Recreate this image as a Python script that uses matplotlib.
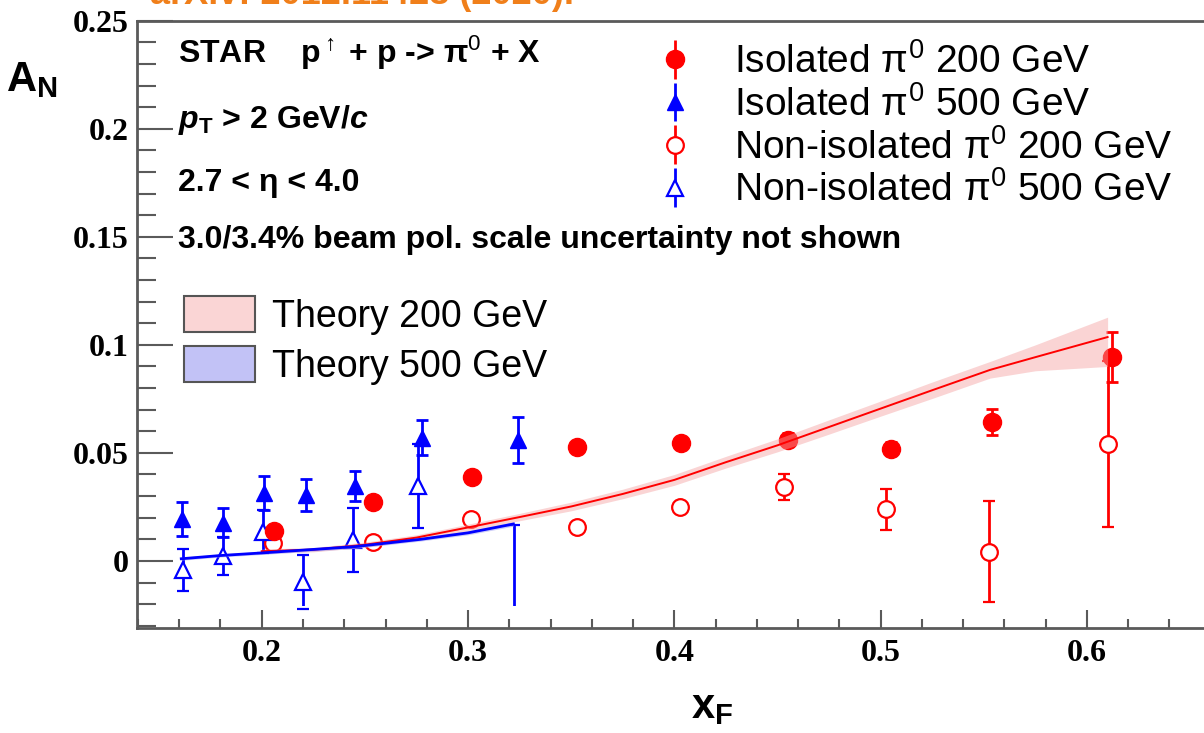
import matplotlib.pyplot as plt
from matplotlib.patches import Rectangle, Patch

plt.rcParams['mathtext.fontset'] = 'custom'
plt.rcParams['mathtext.rm'] = 'Liberation Sans'
plt.rcParams['mathtext.it'] = 'Liberation Sans:italic'
plt.rcParams['mathtext.bf'] = 'Liberation Sans:bold'
plt.rcParams['mathtext.bfit'] = 'Liberation Sans:italic:bold'
plt.rcParams['font.family'] = ['Liberation Sans', 'DejaVu Sans']

# isolated pi0, 200 GeV
xf_iso200 = [0.206, 0.254, 0.302, 0.353, 0.403, 0.455, 0.505, 0.554, 0.612]
an_iso200 = [0.0139, 0.0275, 0.039, 0.0525, 0.0545, 0.056, 0.0519, 0.0644, 0.0943]
err_iso200 = [0.002, 0.002, 0.002, 0.002, 0.002, 0.003, 0.003, 0.006, 0.0117]

# non-isolated pi0, 200 GeV
xf_non200 = [0.2056, 0.2538, 0.3013, 0.3527, 0.4028, 0.4532, 0.5028, 0.5527, 0.610]
an_non200 = [0.0082, 0.0087, 0.0193, 0.0159, 0.0249, 0.0344, 0.0239, 0.0043, 0.0542]
err_non200 = [0.002, 0.002, 0.002, 0.002, 0.002, 0.006, 0.0095, 0.0235, 0.0383]

# isolated pi0, 500 GeV
xf_iso500 = [0.1612, 0.1814, 0.2013, 0.2215, 0.245, 0.2778, 0.3244]
an_iso500 = [0.0193, 0.0177, 0.0313, 0.0306, 0.0347, 0.057, 0.0561]
err_iso500 = [0.0078, 0.0067, 0.0078, 0.0073, 0.0068, 0.008, 0.0107]

# non-isolated pi0, 500 GeV (last point is below the frame)
xf_non500 = [0.1616, 0.1814, 0.2008, 0.2202, 0.244, 0.2759, 0.3223]
an_non500 = [-0.0042, 0.0023, 0.0136, -0.0096, 0.0097, 0.0347, -0.05]
err_non500 = [0.0095, 0.0088, 0.010, 0.0125, 0.0150, 0.0196, 0.0667]

# theory curves
xf_th200 = [0.20, 0.225, 0.25, 0.275, 0.30, 0.325, 0.35, 0.375, 0.40, 0.425,
            0.45, 0.475, 0.50, 0.525, 0.553, 0.575, 0.61]
an_th200 = [0.0045, 0.0052, 0.0075, 0.0108, 0.0155, 0.0203, 0.0252, 0.031, 0.0375,
            0.0457, 0.0535, 0.062, 0.0705, 0.079, 0.0884, 0.0943, 0.1036]
lo_th200 = [0.0035, 0.0042, 0.0063, 0.0095, 0.014, 0.0186, 0.0232, 0.0288, 0.035,
            0.043, 0.0505, 0.0587, 0.067, 0.0752, 0.0846, 0.0880, 0.090]
hi_th200 = [0.0055, 0.0062, 0.0087, 0.0121, 0.017, 0.022, 0.0272, 0.0332, 0.040,
            0.0484, 0.0565, 0.0653, 0.074, 0.0828, 0.0923, 0.100, 0.1128]

xf_th500 = [0.161, 0.18, 0.20, 0.22, 0.245, 0.277, 0.30, 0.322]
an_th500 = [0.001, 0.0025, 0.0037, 0.005, 0.0066, 0.010, 0.013, 0.0171]
lo_th500 = [0.0003, 0.0018, 0.003, 0.0042, 0.0058, 0.0092, 0.0121, 0.0161]
hi_th500 = [0.0017, 0.0032, 0.0044, 0.0058, 0.0074, 0.0108, 0.0139, 0.0181]

W, H = 1204, 733
fig = plt.figure(figsize=(W / 100, H / 100), dpi=100)
ax = fig.add_axes([136.7 / W, 105.3 / H, (1212 - 136.7) / W, (712.3 - 105.3) / H])
ax.set_xlim(0.1394, 0.6606)
ax.set_ylim(-0.0309, 0.25)

red = '#ff0000'
blue = '#0000ff'
ebkw = dict(linestyle='none', elinewidth=2, capsize=4, capthick=2)
styles = [
    dict(fmt='o', color=red, ms=13),
    dict(fmt='^', color=blue, ms=12),
    dict(fmt='o', color=red, mfc='white', mew=1.6, ms=12),
    dict(fmt='^', color=blue, mfc='white', mew=1.6, ms=12),
]
labels = ['Isolated π$^0$ 200 GeV', 'Isolated π$^0$ 500 GeV',
          'Non-isolated π$^0$ 200 GeV', 'Non-isolated π$^0$ 500 GeV']

ax.errorbar(xf_iso200, an_iso200, yerr=err_iso200, zorder=4, **styles[0], **ebkw)
ax.errorbar(xf_iso500, an_iso500, yerr=err_iso500, zorder=4, **styles[1], **ebkw)
ax.errorbar(xf_non200, an_non200, yerr=err_non200, zorder=3, **styles[2], **ebkw)
e4 = ax.errorbar(xf_non500, an_non500, yerr=err_non500, zorder=3, **styles[3], **ebkw)
clip = Rectangle((0.1, -0.021), 1.0, 0.4, transform=ax.transData)
for col in e4.lines[2]:
    col.set_clip_path(clip)

# legend proxies without caps
handles = []
for st, lab in zip(styles, labels):
    handles.append(ax.errorbar([], [], yerr=[], elinewidth=2, capsize=0,
                               label=lab, **st))

# theory
ax.fill_between(xf_th200, lo_th200, hi_th200, color='#f4a0a0', alpha=0.45,
                lw=0, zorder=5)
ax.plot(xf_th200, an_th200, color=red, lw=1.4, zorder=6)
ax.fill_between(xf_th500, lo_th500, hi_th500, color='#9a9af0', alpha=0.5,
                lw=0, zorder=5)
ax.plot(xf_th500, an_th500, color=blue, lw=2, zorder=6)

# axes style
frame = '#5a5a5a'
for s in ['top', 'left', 'bottom']:
    ax.spines[s].set_color(frame)
    ax.spines[s].set_linewidth(2)
ax.spines['right'].set_visible(False)
ax.set_xticks([0.2, 0.3, 0.4, 0.5, 0.6])
ax.set_xticks([0.14 + 0.02 * i for i in range(27)], minor=True)
ax.set_yticks([0, 0.05, 0.1, 0.15, 0.2, 0.25])
ax.set_yticklabels(['0', '0.05', '0.1', '0.15', '0.2', '0.25'])
ax.set_yticks([-0.03 + 0.01 * i for i in range(28)], minor=True)
ax.tick_params(which='both', direction='in', color=frame, width=1.5,
               top=False, right=False)
ax.tick_params(axis='x', which='major', length=13, pad=8)
ax.tick_params(axis='x', which='minor', length=6.5)
ax.tick_params(axis='y', which='major', length=26, pad=6)
ax.tick_params(axis='y', which='minor', length=13.5)
for lab in ax.get_xticklabels() + ax.get_yticklabels():
    lab.set_fontfamily('Liberation Serif')
    lab.set_fontweight('bold')
    lab.set_fontsize(23)

fig.text(32 / W, 1 - 80 / H, r'$\mathbf{A}_\mathbf{N}$', fontsize=30,
         ha='center', va='center')
fig.text(712 / W, 1 - 707 / H, r'$\mathbf{x}_\mathbf{F}$', fontsize=30,
         ha='center', va='center')

# annotations
fig.text(150 / W, 1 - 4 / H, 'arXiv: 2012.11428 (2020).', color='#f07f1a',
         fontsize=26, fontweight='bold', va='baseline')
tk = dict(fontsize=23, fontweight='bold', va='center', ha='left')
fig.text(178 / W, 1 - 53 / H, r'STAR    p$^{\uparrow}$ + p -> π$^0$ + X', **tk)
fig.text(178 / W, 1 - 120 / H, r'$\mathbfit{p}_\mathbf{T}$ > 2 GeV/$\mathbfit{c}$', **tk)
fig.text(178 / W, 1 - 183 / H, '2.7 < η < 4.0', **tk)
fig.text(178 / W, 1 - 240 / H, '3.0/3.4% beam pol. scale uncertainty not shown', **tk)

# legends
fig.legend(handles=handles, loc='upper left',
           bbox_to_anchor=(652 / W, 1 - 43 / H), frameon=False,
           fontsize=28, handlelength=1.2, handletextpad=0.9,
           labelspacing=0.13, borderpad=0, borderaxespad=0)
th_handles = [Patch(facecolor='#fad5d5', edgecolor='#555555', lw=1.5, label='Theory 200 GeV'),
              Patch(facecolor='#c2c2f6', edgecolor='#555555', lw=1.5, label='Theory 500 GeV')]
fig.legend(handles=th_handles, loc='upper left',
           bbox_to_anchor=(184 / W, 1 - 296 / H), frameon=False,
           fontsize=27, handlelength=1.9, handleheight=1.1,
           handletextpad=0.45, labelspacing=0.3, borderpad=0,
           borderaxespad=0)

fig.savefig('out.png', dpi=100)
